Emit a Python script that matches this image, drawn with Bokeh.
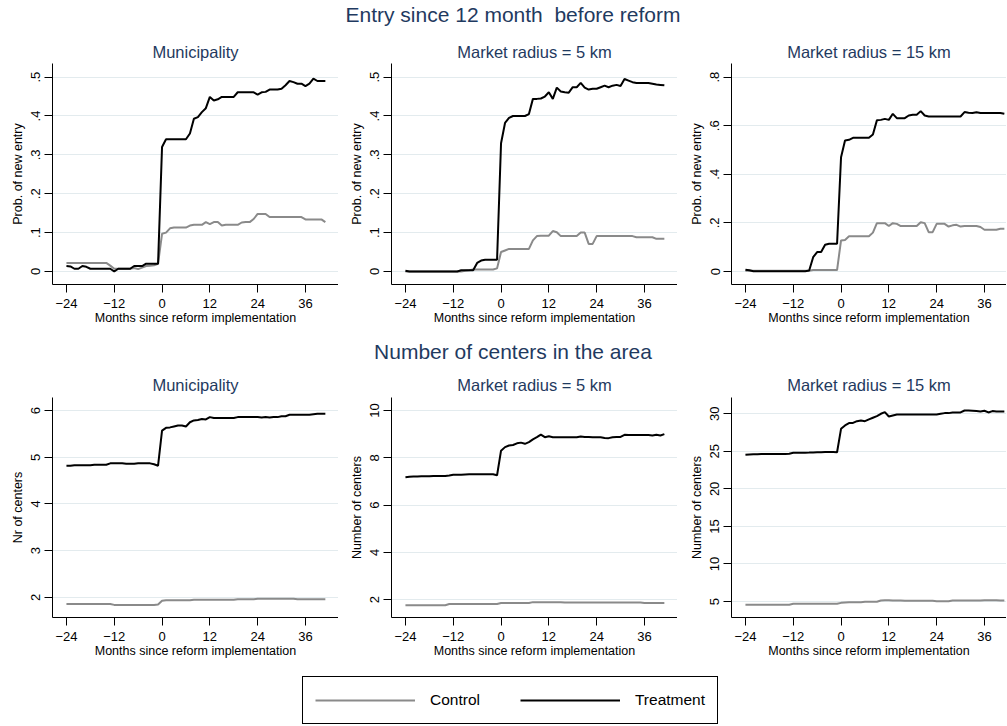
import numpy as np
from bokeh.plotting import figure
from bokeh.layouts import column, row
from bokeh.models import Div, FixedTicker, Range1d, Legend, LegendItem
from bokeh.embed import file_html
from bokeh.resources import INLINE

FONT = "Liberation Sans"
NAVY = "#1f3a60"
GRID = "#e3ebee"
GRAY = "#8a8a8a"

# ---------------- data ----------------
months = list(range(-24, 42))
x_ticks = [-24, -12, 0, 12, 24, 36]
x_label = "Months since reform implementation"

title_entry = "Entry since 12 month  before reform"
title_centers = "Number of centers in the area"
subtitles = ["Municipality", "Market radius = 5 km", "Market radius = 15 km"]
series_names = ["Control", "Treatment"]

entry_muni_control = (
    [0.022] * 11 + [0.015, 0.007, 0.007, 0.007, 0.007, 0.007, 0.009, 0.006, 0.01, 0.014, 0.015, 0.016, 0.02]
    + [0.097, 0.1, 0.111, 0.113, 0.113, 0.113, 0.113, 0.118, 0.12, 0.12, 0.12, 0.127, 0.122, 0.127,
       0.127, 0.118, 0.12, 0.12, 0.12, 0.12, 0.126, 0.127, 0.127, 0.135, 0.148, 0.148, 0.148, 0.14]
    + [0.14] * 8 + [0.134] * 5 + [0.127]
)
entry_muni_treat = [
    0.014, 0.013, 0.007, 0.007, 0.014, 0.012, 0.007, 0.007, 0.007, 0.007, 0.007, 0.007,
    0.0, 0.007, 0.007, 0.007, 0.007, 0.014, 0.014, 0.014, 0.02, 0.02, 0.02, 0.02,
    0.32, 0.34, 0.34, 0.34, 0.34, 0.34, 0.34, 0.355, 0.393, 0.397, 0.41, 0.42,
    0.449, 0.44, 0.443, 0.449, 0.449, 0.449, 0.449, 0.461, 0.461, 0.461, 0.461, 0.461,
    0.455, 0.461, 0.462, 0.468, 0.468, 0.468, 0.47, 0.479, 0.49, 0.487, 0.483, 0.483,
    0.477, 0.483, 0.496, 0.49, 0.49, 0.49,
]
entry_5km_control = (
    [0.0] * 15 + [0.002, 0.003] + [0.005] * 6 + [0.008]
    + [0.05, 0.054, 0.058] + [0.058] * 5 + [0.08, 0.091, 0.092, 0.092, 0.092, 0.104, 0.101, 0.091]
    + [0.091] * 4 + [0.1, 0.1, 0.071, 0.071, 0.091] + [0.091] * 9 + [0.088] * 5 + [0.084] * 3
)
entry_5km_treat = (
    [0.002] + [0.0] * 13 + [0.003] * 4 + [0.022, 0.028] + [0.03] * 4
    + [0.33, 0.382, 0.395, 0.40, 0.40, 0.40, 0.40, 0.405, 0.444, 0.444, 0.445, 0.45,
       0.461, 0.444, 0.473, 0.463, 0.461, 0.46, 0.474, 0.474, 0.485, 0.473, 0.468, 0.47,
       0.47, 0.474, 0.478, 0.474, 0.478, 0.48, 0.477, 0.495, 0.491, 0.487, 0.485, 0.485,
       0.485, 0.485, 0.483, 0.481, 0.48, 0.479]
)
entry_15km_control = (
    [0.003] * 17 + [0.006] * 7
    + [0.128, 0.13, 0.145] + [0.145] * 5 + [0.16, 0.199, 0.199, 0.199, 0.187, 0.199, 0.196, 0.187]
    + [0.187] * 4 + [0.203, 0.199, 0.162, 0.162, 0.196, 0.196, 0.196, 0.185, 0.19, 0.192, 0.185]
    + [0.187] * 4 + [0.183] + [0.172] * 4 + [0.176, 0.176]
)
entry_15km_treat = (
    [0.007, 0.005] + [0.001] * 14 + [0.004, 0.059, 0.08, 0.08, 0.11, 0.114, 0.114, 0.114]
    + [0.47, 0.539, 0.542, 0.55] + [0.55] * 4
    + [0.564, 0.622, 0.624, 0.628, 0.624, 0.649, 0.631, 0.631, 0.631, 0.642, 0.645, 0.645, 0.66, 0.642]
    + [0.638] * 9 + [0.656, 0.653, 0.652, 0.655] + [0.652] * 6 + [0.649]
)
centers_muni_control = (
    [1.86] * 12 + [1.84] * 11 + [1.85]
    + [1.93] + [1.94] * 7 + [1.95] * 11 + [1.96] * 5 + [1.97] * 10 + [1.96] * 8
)
centers_muni_treat = (
    [4.82, 4.82, 4.83, 4.83, 4.83, 4.83, 4.83, 4.84, 4.84, 4.84, 4.84, 4.87,
     4.87, 4.87, 4.87, 4.86, 4.86, 4.86, 4.87, 4.87, 4.87, 4.87, 4.85, 4.82]
    + [5.57, 5.63, 5.64, 5.66, 5.68, 5.68, 5.66, 5.75, 5.79, 5.80, 5.82, 5.81, 5.86, 5.84]
    + [5.84] * 5 + [5.86] * 6 + [5.85, 5.86, 5.85, 5.86, 5.86, 5.88, 5.88]
    + [5.91] * 6 + [5.92] + [5.93] * 3
)
centers_5km_control = [1.76] * 11 + [1.81] * 13 + [1.85] * 8 + [1.89] * 8 + [1.87] * 20 + [1.85] * 6
centers_5km_treat = (
    [7.18, 7.2, 7.21, 7.21, 7.22, 7.22, 7.22, 7.23, 7.23, 7.23, 7.23, 7.25,
     7.28, 7.28, 7.28, 7.29, 7.3, 7.3, 7.3, 7.3, 7.3, 7.3, 7.3, 7.26]
    + [8.3, 8.45, 8.52, 8.54, 8.61, 8.64, 8.59, 8.66, 8.78, 8.87, 8.98, 8.87, 8.91]
    + [8.87] * 7 + [8.9, 8.88, 8.88, 8.87, 8.87, 8.87, 8.84, 8.83, 8.87, 8.88, 8.88, 8.97]
    + [8.96] * 6 + [8.94, 8.97, 8.94, 9.0]
)
centers_15km_control = (
    [4.56] * 12 + [4.69] * 12
    + [4.82, 4.88] + [4.91] * 4 + [4.96] * 4 + [5.13, 5.16, 5.18] + [5.12] * 3 + [5.09] * 8
    + [5.04] * 4 + [5.13] * 8 + [5.18] * 4 + [5.13] * 2
)
centers_15km_treat = (
    [24.54, 24.58, 24.6, 24.62, 24.63, 24.64, 24.65, 24.65, 24.65, 24.65, 24.66, 24.67,
     24.8, 24.8, 24.81, 24.82, 24.83, 24.85, 24.87, 24.88, 24.9, 24.9, 24.9, 24.88]
    + [28.0, 28.45, 28.76, 28.78, 29.02, 29.1, 29.02, 29.25, 29.47, 29.69, 30.0, 30.22,
       29.64, 29.78, 29.91]
    + [29.9] * 10
    + [30.0, 30.09, 30.09, 30.18, 30.18, 30.18, 30.44, 30.44, 30.42, 30.36, 30.3, 30.4,
       30.18, 30.36, 30.3, 30.3, 30.3]
)

yticks_entry = [0, 0.1, 0.2, 0.3, 0.4, 0.5]
ylabels_entry = ["0", ".1", ".2", ".3", ".4", ".5"]
yticks_entry15 = [0, 0.2, 0.4, 0.6, 0.8]
ylabels_entry15 = ["0", ".2", ".4", ".6", ".8"]
yticks_muni = [2, 3, 4, 5, 6]
yticks_5km = [2, 4, 6, 8, 10]
yticks_15km = [5, 10, 15, 20, 25, 30]

# ---------------- layout constants ----------------
PX_PER_MONTH = 286 / 71.8
X0 = -27.5
COL_W = [338, 339, 329]
COL_BL = [52, 53, 54]
BOTTOM = 44


def make_panel(col, title, ylabel, control, treat, yticks, ylabels, yrange, btop, frame_h, standoff):
    w = COL_W[col]
    bl = COL_BL[col]
    xend = X0 + (w - bl) / PX_PER_MONTH
    p = figure(width=w, height=btop + frame_h + BOTTOM,
               x_range=Range1d(X0, xend), y_range=Range1d(*yrange),
               output_backend="svg", toolbar_location=None,
               min_border_left=bl, min_border_right=0, min_border_top=btop,
               min_border_bottom=BOTTOM, title=title)
    p.outline_line_color = None
    p.background_fill_color = "white"
    p.border_fill_color = "white"
    p.title.align = "center"
    p.title.text_font = FONT
    p.title.text_font_size = "16.5px"
    p.title.text_font_style = "normal"
    p.title.text_color = NAVY
    p.title.standoff = standoff

    p.xaxis.ticker = FixedTicker(ticks=x_ticks)
    p.xaxis.axis_label = x_label
    p.yaxis.ticker = FixedTicker(ticks=yticks)
    p.yaxis.major_label_overrides = {t: l for t, l in zip(yticks, ylabels)}
    p.yaxis.axis_label = ylabel
    p.yaxis.major_label_orientation = "vertical"
    for ax in (p.xaxis, p.yaxis):
        ax.axis_line_color = "black"
        ax.axis_line_width = 1
        ax.major_tick_line_color = "black"
        ax.major_tick_out = 8
        ax.major_tick_in = 0
        ax.minor_tick_line_color = None
        ax.major_label_text_font = FONT
        ax.major_label_text_font_size = "13px"
        ax.major_label_text_color = "black"
        ax.axis_label_text_font = FONT
        ax.axis_label_text_font_size = "12.5px"
        ax.axis_label_text_font_style = "normal"
        ax.axis_label_text_color = "black"
    p.xaxis.major_label_standoff = 6
    p.xaxis.axis_label_standoff = 0
    p.yaxis.major_label_standoff = 4
    p.yaxis.axis_label_standoff = 4

    p.xgrid.visible = False
    p.ygrid.grid_line_color = GRID
    p.ygrid.grid_line_width = 1

    p.line(months, control, line_color=GRAY, line_width=2)
    p.line(months, treat, line_color="black", line_width=2)
    return p


def title_div(text, top, bottom, h):
    return Div(text=text, width=980, height=h, margin=(top, 0, bottom, 23),
               styles={"font-family": FONT, "font-size": "21px", "color": NAVY,
                       "text-align": "center", "line-height": f"{h}px",
                       "white-space": "pre"})


row1 = [
    make_panel(0, subtitles[0], "Prob. of new entry", entry_muni_control, entry_muni_treat,
               yticks_entry, ylabels_entry, (-0.0335, 0.535), 27, 221, 6),
    make_panel(1, subtitles[1], "Prob. of new entry", entry_5km_control, entry_5km_treat,
               yticks_entry, ylabels_entry, (-0.0335, 0.535), 27, 221, 6),
    make_panel(2, subtitles[2], "Prob. of new entry", entry_15km_control, entry_15km_treat,
               yticks_entry15, ylabels_entry15, (-0.0535, 0.856), 27, 221, 6),
]
row2 = [
    make_panel(0, subtitles[0], "Nr of centers", centers_muni_control, centers_muni_treat,
               yticks_muni, [str(t) for t in yticks_muni], (1.57, 6.28), 31, 220, 7),
    make_panel(1, subtitles[1], "Number of centers", centers_5km_control, centers_5km_treat,
               yticks_5km, [str(t) for t in yticks_5km], (1.24, 10.55), 31, 220, 7),
    make_panel(2, subtitles[2], "Number of centers", centers_15km_control, centers_15km_treat,
               yticks_15km, [str(t) for t in yticks_15km], (2.87, 32.17), 31, 220, 7),
]

# legend strip
leg = figure(width=1000, height=64, x_range=Range1d(0, 1), y_range=Range1d(0, 1),
             x_axis_type=None, y_axis_type=None, output_backend="svg",
             toolbar_location=None, min_border=0)
leg.outline_line_color = None
leg.grid.visible = False
r_c = leg.line(np.array([np.nan]), np.array([np.nan]), line_color=GRAY, line_width=2)
r_t = leg.line(np.array([np.nan]), np.array([np.nan]), line_color="black", line_width=2)
legend = Legend(items=[LegendItem(label=series_names[0], renderers=[r_c]),
                       LegendItem(label=series_names[1], renderers=[r_t])],
                orientation="horizontal", location=(302, 1), margin=0, padding=12,
                spacing=40, glyph_width=100, glyph_height=22, label_standoff=15,
                label_height=22, label_text_font=FONT, label_text_font_size="15.5px",
                label_text_color="black", border_line_color="black", border_line_width=1,
                border_line_alpha=1, background_fill_color="white", background_fill_alpha=1)
leg.add_layout(legend, "center")

layout = column(
    title_div(title_entry, 0, 6, 30),
    row(*row1, spacing=0),
    title_div(title_centers, 14, 4, 20),
    row(*row2, spacing=0),
    leg,
    spacing=0,
)

open("out.html", "w").write(file_html(layout, INLINE))
